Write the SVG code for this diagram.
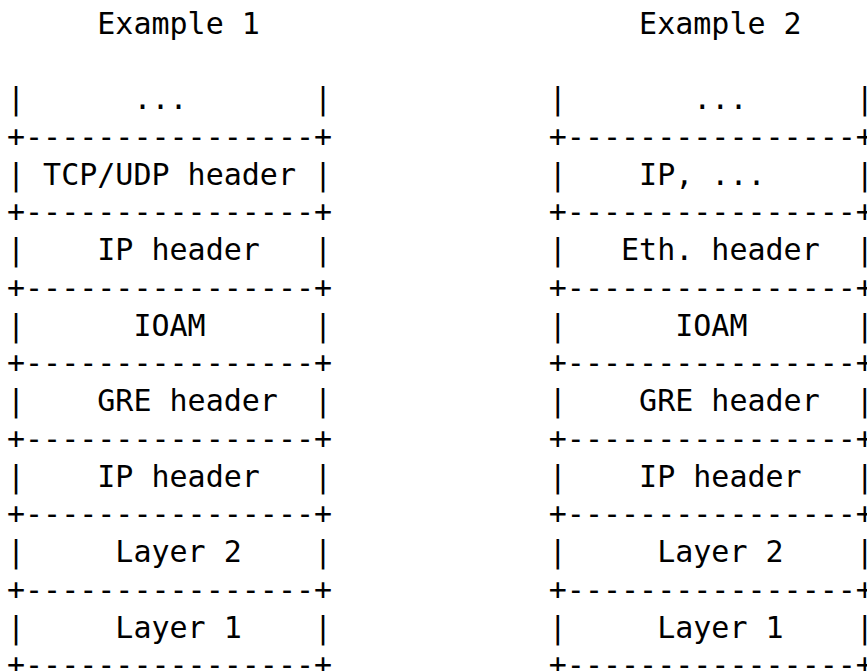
<svg xmlns="http://www.w3.org/2000/svg" width="867" height="671" viewBox="0 0 867 671">
<style>
text{font-family:"DejaVu Sans Mono","Liberation Mono",monospace;font-size:30px;fill:#000;white-space:pre}
</style>
<rect width="867" height="671" fill="#fff"/>
<g id="titles">
<text x="7" y="33.5" xml:space="preserve">     Example 1</text>
<text x="548.8" y="33.5" xml:space="preserve">     Example 2</text>
</g>
<g id="ex1">
<g id="ex1-more"><text x="7" y="109" xml:space="preserve">|      ...       |</text><text x="7" y="146.75" xml:space="preserve">+----------------+</text></g>
<g id="ex1-tcp"><text x="7" y="184.5" xml:space="preserve">| TCP/UDP header |</text><text x="7" y="222.25" xml:space="preserve">+----------------+</text></g>
<g id="ex1-ip1"><text x="7" y="260" xml:space="preserve">|    IP header   |</text><text x="7" y="297.75" xml:space="preserve">+----------------+</text></g>
<g id="ex1-ioam"><text x="7" y="335.5" xml:space="preserve">|      IOAM      |</text><text x="7" y="373.25" xml:space="preserve">+----------------+</text></g>
<g id="ex1-gre"><text x="7" y="411" xml:space="preserve">|    GRE header  |</text><text x="7" y="448.75" xml:space="preserve">+----------------+</text></g>
<g id="ex1-ip2"><text x="7" y="486.5" xml:space="preserve">|    IP header   |</text><text x="7" y="524.25" xml:space="preserve">+----------------+</text></g>
<g id="ex1-l2"><text x="7" y="562" xml:space="preserve">|     Layer 2    |</text><text x="7" y="599.75" xml:space="preserve">+----------------+</text></g>
<g id="ex1-l1"><text x="7" y="637.5" xml:space="preserve">|     Layer 1    |</text><text x="7" y="675.25" xml:space="preserve">+----------------+</text></g>
</g>
<g id="ex2">
<g id="ex2-more"><text x="548.8" y="109" xml:space="preserve">|       ...      |</text><text x="548.8" y="146.75" xml:space="preserve">+----------------+</text></g>
<g id="ex2-ip"><text x="548.8" y="184.5" xml:space="preserve">|    IP, ...     |</text><text x="548.8" y="222.25" xml:space="preserve">+----------------+</text></g>
<g id="ex2-eth"><text x="548.8" y="260" xml:space="preserve">|   Eth. header  |</text><text x="548.8" y="297.75" xml:space="preserve">+----------------+</text></g>
<g id="ex2-ioam"><text x="548.8" y="335.5" xml:space="preserve">|      IOAM      |</text><text x="548.8" y="373.25" xml:space="preserve">+----------------+</text></g>
<g id="ex2-gre"><text x="548.8" y="411" xml:space="preserve">|    GRE header  |</text><text x="548.8" y="448.75" xml:space="preserve">+----------------+</text></g>
<g id="ex2-ip2"><text x="548.8" y="486.5" xml:space="preserve">|    IP header   |</text><text x="548.8" y="524.25" xml:space="preserve">+----------------+</text></g>
<g id="ex2-l2"><text x="548.8" y="562" xml:space="preserve">|     Layer 2    |</text><text x="548.8" y="599.75" xml:space="preserve">+----------------+</text></g>
<g id="ex2-l1"><text x="548.8" y="637.5" xml:space="preserve">|     Layer 1    |</text><text x="548.8" y="675.25" xml:space="preserve">+----------------+</text></g>
</g>
<g id="connectors"/>
</svg>
